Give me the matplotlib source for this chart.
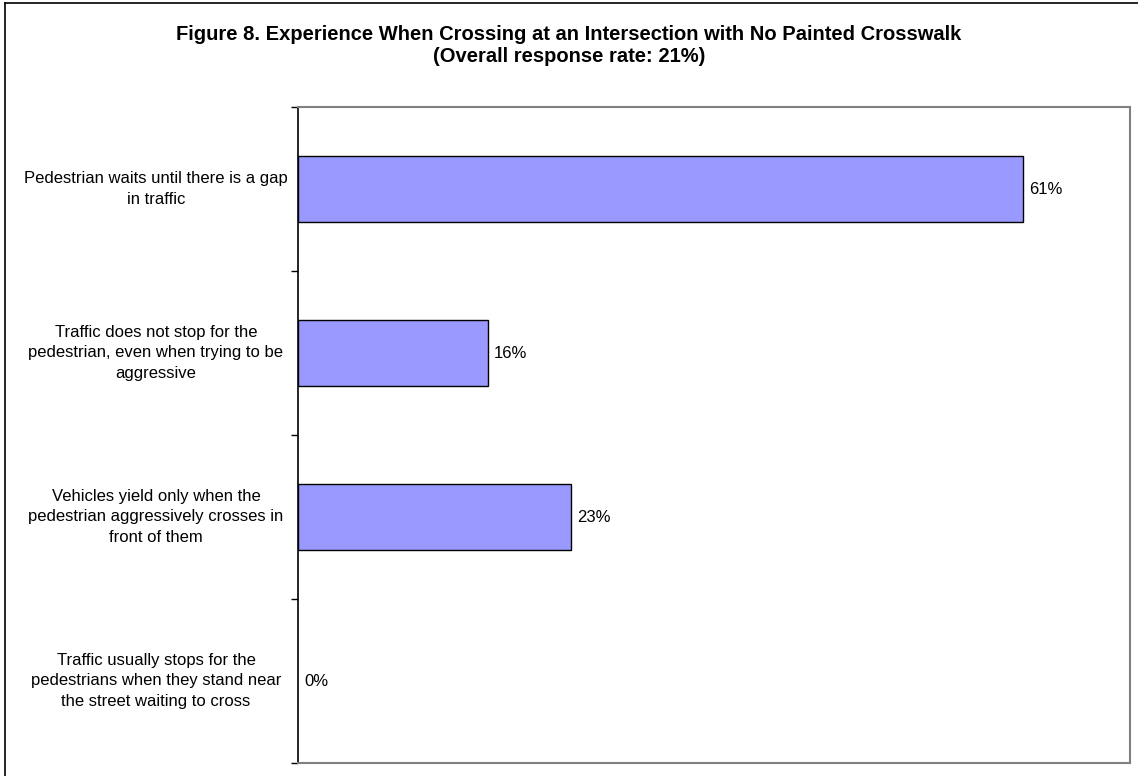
import matplotlib
matplotlib.use("Agg")
import matplotlib.pyplot as plt
from matplotlib.lines import Line2D
from matplotlib.transforms import blended_transform_factory, offset_copy

plt.rcParams['font.family'] = ['Liberation Sans', 'DejaVu Sans']

categories = [
    "Pedestrian waits until there is a gap\nin traffic",
    "Traffic does not stop for the\npedestrian, even when trying to be\naggressive",
    "Vehicles yield only when the\npedestrian aggressively crosses in\nfront of them",
    "Traffic usually stops for the\npedestrians when they stand near\nthe street waiting to cross",
]
values = [0.61, 0.16, 0.23, 0.00]
value_labels = ["61%", "16%", "23%", "0%"]

W, H = 1138, 776
fig = plt.figure(figsize=(W / 100, H / 100), dpi=100)
fig.patch.set_facecolor("white")

# outer chart frame (left and top edges)
fig.add_artist(Line2D([5 / W, 5 / W], [0, 1 - 3 / H], color="black", lw=1.2))
fig.add_artist(Line2D([5 / W, 1], [1 - 3 / H, 1 - 3 / H], color="black", lw=1.2))

ax = fig.add_axes([298 / W, 1 - 763 / H, (1130 - 298) / W, (763 - 107) / H])

ypos = list(range(len(categories)))
edge_w = [1 if v > 0 else 0 for v in values]
ax.barh(ypos, values, height=0.4, color="#9999FF", edgecolor="black", linewidth=edge_w)

ax.set_xlim(0, 0.70)
ax.set_ylim(len(categories) - 0.5, -0.5)

ax.set_xticks([])
ax.set_yticks([])
ax.set_yticks([i - 0.5 for i in range(len(categories) + 1)], minor=True)
ax.tick_params(axis="y", which="minor", length=5, width=1, direction="out", color="black")

for side in ("top", "right", "bottom"):
    ax.spines[side].set_color("#808080")
    ax.spines[side].set_linewidth(1.5)
ax.spines["left"].set_color("black")
ax.spines["left"].set_linewidth(1.2)

# category labels, centred in the left margin
lab_tr = blended_transform_factory(fig.transFigure, ax.transData)
for y, text in zip(ypos, categories):
    ax.text(156 / W, y, text, transform=lab_tr, ha="center", va="center",
            multialignment="center", fontsize=12, linespacing=1.45, color="black")

# value labels at the end of each bar
val_tr = offset_copy(ax.transData, fig=fig, x=6, y=0, units="dots")
for y, v, lab in zip(ypos, values, value_labels):
    ax.text(v, y, lab, transform=val_tr, ha="left", va="center", fontsize=12, color="black")

fig.text(0.5, 1 - 35 / H, "Figure 8. Experience When Crossing at an Intersection with No Painted Crosswalk",
         ha="center", va="center", fontsize=14.5, fontweight="bold")
fig.text(0.5, 1 - 57 / H, "(Overall response rate: 21%)",
         ha="center", va="center", fontsize=14.5, fontweight="bold")

fig.savefig("out.png", dpi=100, facecolor="white")
